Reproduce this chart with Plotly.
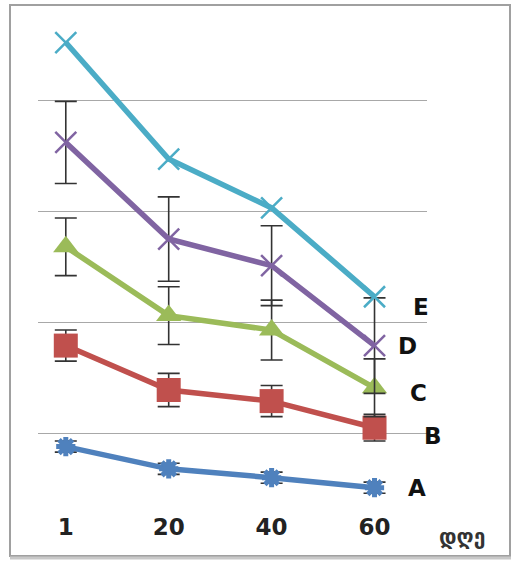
import plotly.graph_objects as go

days = ["1", "20", "40", "60"]
series_names = ["A", "B", "C", "D", "E"]
A = [0.88, 0.68, 0.60, 0.51]
B = [1.79, 1.39, 1.29, 1.05]
C = [2.68, 2.06, 1.93, 1.41]
D = [3.62, 2.75, 2.51, 1.79]
E = [4.52, 3.47, 3.03, 2.23]
A_err = [0.05, 0.05, 0.05, 0.05]
B_err = [0.14, 0.15, 0.14, 0.12]
C_err = [0.26, 0.26, 0.27, 0.26]
D_err = [0.37, 0.38, 0.36, 0.43]
x_unit = "დღე"

colors = {"A": "#4f81bd", "B": "#c0504d", "C": "#9bbb59", "D": "#8064a2", "E": "#4bacc6"}
markers = {
    "A": dict(symbol="asterisk-open", size=16, line=dict(width=5, color=colors["A"])),
    "B": dict(symbol="square", size=24, color=colors["B"]),
    "C": dict(symbol="triangle-up", size=22, color=colors["C"]),
    "D": dict(symbol="x-thin-open", size=21, line=dict(width=2.5, color=colors["D"])),
    "E": dict(symbol="x-thin-open", size=21, line=dict(width=2.5, color=colors["E"])),
}
vals = {"A": A, "B": B, "C": C, "D": D, "E": E}
errs = {"A": A_err, "B": B_err, "C": C_err, "D": D_err, "E": None}

fig = go.Figure()
for name in series_names:
    ey = None
    if errs[name] is not None:
        ey = dict(type="data", array=errs[name], visible=True, color="#333333", thickness=1.6, width=11)
    fig.add_trace(go.Scatter(
        x=days, y=vals[name], mode="lines+markers", name=name,
        line=dict(color=colors[name], width=5.5),
        marker=markers[name], error_y=ey, cliponaxis=False,
    ))

# series labels at the right end (x in paper units, y in data units)
label_pos = {"A": (0.974, 0.51), "B": (1.015, 0.98), "C": (0.977, 1.36), "D": (0.951, 1.79), "E": (0.985, 2.135)}
for name in series_names:
    lx, ly = label_pos[name]
    fig.add_annotation(x=lx, y=ly, xref="paper", yref="y", text="<b>%s</b>" % name, showarrow=False,
                       xanchor="center", yanchor="middle",
                       font=dict(family="DejaVu Sans", size=23, color="#111111"))

fig.add_annotation(x=(462 - 38) / 389, y=(511 - 537) / 494, xref="paper", yref="paper",
                   text="<b>%s</b>" % x_unit, showarrow=False, xanchor="center", yanchor="middle",
                   font=dict(family="DejaVu Sans", size=21, color="#333333"))

# frame
fig.add_shape(type="rect", xref="paper", yref="paper",
              x0=(10 - 38) / 389, x1=(510 - 38) / 389, y0=(511 - 556) / 494, y1=(511 - 5) / 494,
              line=dict(color="#a0a0a0", width=2), layer="below")
fig.add_shape(type="line", xref="paper", yref="paper",
              x0=(10 - 38) / 389, x1=(511 - 38) / 389, y0=(511 - 558) / 494, y1=(511 - 558) / 494,
              line=dict(color="#c8c8c8", width=3), layer="below")

fig.update_layout(
    width=517, height=565,
    margin=dict(l=38, r=90, t=17, b=54),
    paper_bgcolor="white", plot_bgcolor="white",
    showlegend=False,
    xaxis=dict(type="category", range=[-0.27, 3.51], showgrid=False, showline=False, zeroline=False,
               ticks="", tickfont=dict(family="DejaVu Sans", size=23, color="#222222", weight="bold")),
    yaxis=dict(range=[0.3, 4.75], tickvals=[1, 2, 3, 4], showticklabels=False, showgrid=True,
               gridcolor="#a8a8a8", gridwidth=1, zeroline=False, showline=False, ticks=""),
)

fig.write_html("out.html", config={"displayModeBar": False},
               post_script="document.body.style.margin='0';")
